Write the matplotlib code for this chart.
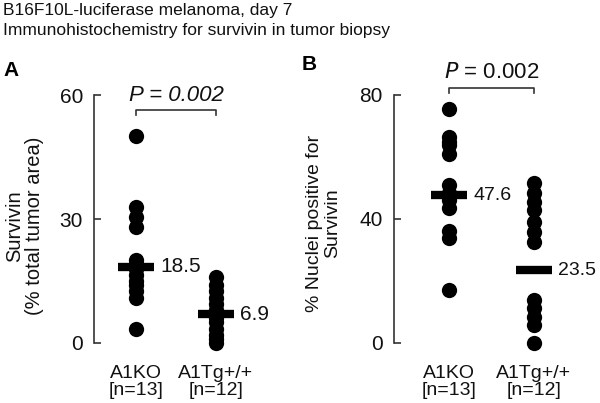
import matplotlib
matplotlib.use("Agg")
import matplotlib.pyplot as plt

plt.rcParams['font.family'] = ['Liberation Sans', 'DejaVu Sans']

categories = ["A1KO\n[n=13]", "A1Tg+/+\n[n=12]"]

# Panel A: Survivin (% total tumor area)
a_ko = [50, 33, 30.5, 28, 20, 19, 18, 16.5, 15, 14, 12.5, 11, 3.5]
a_tg = [16, 14, 12.5, 11, 9.5, 8, 6, 5, 3.5, 2, 1, 0]
a_means = [18.5, 6.9]
a_mean_labels = ["18.5", "6.9"]
a_yticks = [0, 30, 60]

# Panel B: % Nuclei positive for Survivin
b_ko = [75.5, 66.5, 65, 64, 61, 51, 48.5, 47, 46, 43.5, 36, 34, 17]
b_tg = [51.5, 48.3, 45.6, 43, 39.1, 35.9, 32.7, 13.9, 11.2, 8.5, 5.8, 0]
b_means = [47.6, 23.5]
b_mean_labels = ["47.6", "23.5"]
b_yticks = [0, 40, 80]

W, H = 600, 403
fig = plt.figure(figsize=(W / 100, H / 100), dpi=100)

def px_axes(left, top, right, bottom):
    return fig.add_axes([left / W, 1 - bottom / H, (right - left) / W, (bottom - top) / H])

spine_col = '#333333'
txt = '#111111'

def setup(ax, ymax, yticks, off_px, sp_px, width_px, fs, cfs):
    x0 = -off_px / sp_px
    ax.set_xlim(x0, x0 + width_px / sp_px)
    ax.set_ylim(0, ymax)
    for s in ['top', 'right', 'bottom']:
        ax.spines[s].set_visible(False)
    ax.spines['left'].set_color(spine_col)
    ax.spines['left'].set_linewidth(1.2)
    ax.spines['left'].set_bounds(0, ymax)
    ax.set_yticks(yticks)
    ax.tick_params(axis='y', direction='in', length=5, width=1.2, color=spine_col,
                   labelsize=fs, pad=8, labelcolor=txt)
    ax.set_xticks([0, 1])
    ax.set_xticklabels(categories, fontsize=cfs, linespacing=0.95, color=txt)
    ax.tick_params(axis='x', length=0, pad=16)
    ax.patch.set_alpha(0)

def draw(ax, groups, means, labels, sp_px, ms, fs, half=18):
    for i, vals in enumerate(groups):
        ax.plot([i] * len(vals), vals, 'o', color='black', ms=ms, clip_on=False,
                markeredgewidth=0, zorder=3)
    hw = half / sp_px
    for i, (m, lab) in enumerate(zip(means, labels)):
        ax.plot([i - hw, i + hw], [m, m], color='black', lw=6,
                solid_capstyle='butt', zorder=4, clip_on=False)
        ax.text(i + hw + 6 / sp_px, m, lab, fontsize=fs, va='center', ha='left',
                color=txt)

# Panel A
axA = px_axes(94, 95, 264, 343)
setup(axA, 60, a_yticks, 42, 80, 170, 15, 14)
draw(axA, [a_ko, a_tg], a_means, a_mean_labels, 80, 11, 15)
axA.set_ylabel("Survivin\n(% total tumor area)", fontsize=14.5, linespacing=1.05, color=txt)
axA.yaxis.set_label_coords((44 - 94) / 170, (343 - 226) / 248)
axA.plot([0, 0, 1, 1], [55.2, 56.4, 56.4, 55.2], color=spine_col, lw=1.2, clip_on=False)
axA.text(0.5, 60, "P = 0.002", fontsize=16, style='italic', ha='center', va='center',
         color=txt)

# Panel B
axB = px_axes(394, 95, 584, 343)
setup(axB, 80, b_yticks, 55, 85, 190, 15, 14)
draw(axB, [b_ko, b_tg], b_means, b_mean_labels, 85, 11, 14)
axB.set_ylabel("% Nuclei positive for\nSurvivin", fontsize=14, linespacing=1.05, color=txt)
axB.yaxis.set_label_coords((341 - 394) / 190, (343 - 223) / 248)
axB.plot([0, 0, 1, 1], [80.6, 82.3, 82.3, 80.6], color=spine_col, lw=1.2, clip_on=False)
axB.text(0.5, 87.4, "$\\it{P}$ = 0.002", fontsize=16, ha='center', va='center',
         color=txt)

# Titles and panel letters
fig.text(3 / W, 1 - 11 / H, "B16F10L-luciferase melanoma, day 7", fontsize=12.5,
         va='center', ha='left', color=txt)
fig.text(3 / W, 1 - 31 / H, "Immunohistochemistry for survivin in tumor biopsy", fontsize=12.5,
         va='center', ha='left', color=txt)
fig.text(3 / W, 1 - 71 / H, "A", fontsize=15, fontweight='bold', va='center', ha='left')
fig.text(302 / W, 1 - 65 / H, "B", fontsize=15, fontweight='bold', va='center', ha='left')

fig.savefig("out.png", dpi=100)
